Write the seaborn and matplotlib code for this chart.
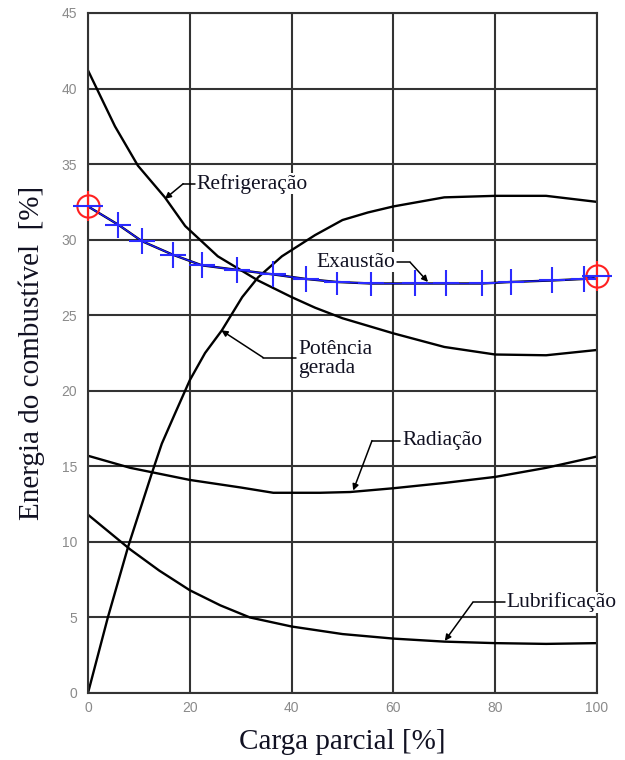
import matplotlib
matplotlib.use("Agg")
import matplotlib.pyplot as plt
import seaborn as sns
import pandas as pd
import numpy as np
from matplotlib.ticker import MultipleLocator

sns.set_style("white")
plt.rcParams['font.family'] = ['Liberation Serif', 'DejaVu Serif']

# ---------------- data ----------------
carga_refrig = [0, 5.3, 9.8, 15.1, 19.1, 25.5, 33.4, 40, 44.6, 50, 60, 70, 80, 90, 100]
refrigeracao = [41.2, 37.5, 34.9, 32.8, 30.9, 28.9, 27.3, 26.2, 25.5, 24.8, 23.8, 22.9, 22.4, 22.35, 22.7]

carga_pot = [0, 3.9, 7.9, 12.6, 14.5, 17.1, 20, 23, 26.3, 30.3, 33.4, 38.1, 44.6, 50, 55, 60, 70, 80, 90, 100]
potencia = [0, 5.0, 9.7, 14.6, 16.5, 18.5, 20.7, 22.5, 24.0, 26.2, 27.5, 28.9, 30.3, 31.3, 31.8, 32.2, 32.8, 32.9, 32.9, 32.5]

carga_exa = [0, 5.9, 10.6, 16.7, 22.4, 29.3, 36.4, 42.8, 48.9, 55.6, 64.2, 70.3, 77.4, 83.1, 91.2, 97.4, 100]
exaustao = [32.2, 31.0, 29.9, 29.0, 28.3, 28.0, 27.7, 27.4, 27.2, 27.1, 27.1, 27.1, 27.1, 27.2, 27.3, 27.4, 27.6]

carga_rad = [0, 8.3, 20, 30, 36.4, 45.6, 51.5, 60, 70, 80, 90, 100]
radiacao = [15.7, 14.9, 14.1, 13.6, 13.25, 13.25, 13.3, 13.55, 13.9, 14.3, 14.9, 15.65]

carga_lub = [0, 8.3, 14, 20, 26, 31.8, 40, 50, 60, 70, 80, 90, 100]
lubrificacao = [11.8, 9.5, 8.1, 6.8, 5.8, 5.0, 4.4, 3.9, 3.6, 3.4, 3.3, 3.25, 3.3]

x_ticks = [0, 20, 40, 60, 80, 100]
y_ticks = [0, 5, 10, 15, 20, 25, 30, 35, 40, 45]

# annotation labels: (text, text xy, elbow xy, arrow tip xy, ha)
labels = [
    ("Refrigeração", (21.4, 33.7), (18.7, 33.7), (15.1, 32.7), "left"),
    ("Exaustão", (60.3, 28.5), (63.3, 28.5), (66.8, 27.2), "right"),
    ("Potência\ngerada", (41.3, 22.1), (34.4, 22.2), (26.2, 24.0), "left"),
    ("Radiação", (61.7, 16.7), (55.8, 16.7), (52.1, 13.4), "left"),
    ("Lubrificação", (82.3, 6.0), (75.6, 6.0), (70.1, 3.45), "left"),
]

# ---------------- figure ----------------
fig = plt.figure(figsize=(6.25, 7.6), dpi=100)
ax = fig.add_axes([88/625, 1-693/760, (597-88)/625, (693-13)/760])

line_kw = dict(color="black", linewidth=1.7, sort=False, legend=False, ax=ax)
sns.lineplot(x=carga_refrig, y=refrigeracao, **line_kw)
sns.lineplot(x=carga_pot, y=potencia, **line_kw)
sns.lineplot(x=carga_rad, y=radiacao, **line_kw)
sns.lineplot(x=carga_lub, y=lubrificacao, **line_kw)
sns.lineplot(x=carga_exa, y=exaustao, **line_kw)

# blue measured points (interior) on exhaust curve
sns.lineplot(x=carga_exa, y=exaustao, color="#1a1aff", linewidth=1.0, sort=False,
             legend=False, ax=ax, zorder=4)
ax.plot(carga_exa[1:-1], exaustao[1:-1], linestyle="none", marker="+",
        markersize=19, markeredgewidth=1.5, color="#2b2bff", zorder=5)
# red endpoint markers
ends_x = [carga_exa[0], carga_exa[-1]]
ends_y = [exaustao[0], exaustao[-1]]
ax.plot(ends_x, ends_y, linestyle="none", marker="o", markersize=16,
        markerfacecolor="none", markeredgecolor="#ff2020", markeredgewidth=1.5,
        zorder=6, clip_on=False)
ax.plot(ends_x, ends_y, linestyle="none", marker="|", markersize=22,
        markeredgewidth=1.5, color="#ff2020", zorder=6, clip_on=False)
ax.plot(ends_x, ends_y, linestyle="none", marker="_", markersize=22,
        markeredgewidth=1.5, color="#2b2bff", zorder=7, clip_on=False)

# annotations
for txt, (tx, ty), (ex, ey), (px, py), ha in labels:
    ax.plot([tx + (-0.4 if ha == "left" else 0.4), ex], [ey, ey], color="black",
            linewidth=1.1, clip_on=False, zorder=3)
    ax.annotate("", xy=(px, py), xytext=(ex, ey),
                arrowprops=dict(arrowstyle="-|>", color="black", lw=1.1,
                                mutation_scale=9, shrinkA=0, shrinkB=0),
                zorder=3)
    ax.text(tx, ty, txt, ha=ha, va="center", fontsize=15.5, color="#111122",
            linespacing=1.05, clip_on=False, zorder=8,
            bbox=dict(facecolor="white", edgecolor="none", pad=0.5))

ax.set_xlim(0, 100)
ax.set_ylim(0, 45)
ax.set_xticks(x_ticks)
ax.set_yticks(y_ticks)
ax.xaxis.set_minor_locator(MultipleLocator(10))
ax.yaxis.set_minor_locator(MultipleLocator(2.5))
ax.grid(True, which="major", color="#333333", linewidth=1.5)
ax.set_axisbelow(True)
for s in ax.spines.values():
    s.set_color("#333333")
    s.set_linewidth(1.5)

ax.tick_params(axis="both", which="major", length=0, pad=8, labelsize=10,
               labelcolor="#8a8a8a")
ax.tick_params(axis="x", which="major", pad=6)
ax.tick_params(axis="both", which="minor", direction="in", length=5, width=1.1,
               color="#333333")
ax.tick_params(axis="x", which="minor", top=False)
ax.tick_params(axis="y", which="minor", right=False)
for lab in ax.get_xticklabels() + ax.get_yticklabels():
    lab.set_family(["Liberation Sans", "DejaVu Sans"])

ax.set_xlabel("Carga parcial [%]", fontsize=21, color="#111122", labelpad=10)
ax.set_ylabel("Energia do combustível  [%]", fontsize=21, color="#111122", labelpad=12)

fig.savefig("out.png", dpi=100)
